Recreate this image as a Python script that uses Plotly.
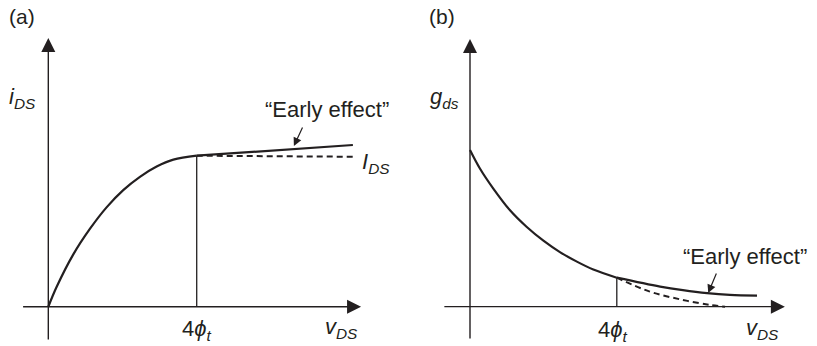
import plotly.graph_objects as go

# ---------------- data ----------------
# Panel (a): i_DS vs v_DS  (x in units of phi_t, y normalised to I_DS)
va_rise = [0, 0.226, 0.67, 1.12, 1.57, 2.02, 2.47, 2.92, 3.37, 4.0]
ia_rise = [0, 0.132, 0.345, 0.515, 0.658, 0.772, 0.86, 0.928, 0.974, 1.0]
va_sat = [4.0, 8.21]
ia_early = [1.0, 1.071]
ia_ideal = [1.0, 0.993]
va_knee = [4.0, 4.0]
ia_knee = [0.0, 1.0]

# Panel (b): g_ds vs v_DS
vb_main = [0, 0.27, 0.64, 1.09, 1.54, 2.0, 2.45, 2.9, 3.36, 4.0]
gb_main = [1.0, 0.882, 0.752, 0.615, 0.51, 0.421, 0.348, 0.289, 0.237, 0.185]
vb_early = [4.0, 5.18, 5.8, 6.46, 7.08, 7.82]
gb_early = [0.185, 0.128, 0.105, 0.086, 0.075, 0.07]
vb_ideal = [4.0, 4.9, 5.8, 6.54, 6.95]
gb_ideal = [0.185, 0.096, 0.043, 0.011, 0.0]
vb_knee = [4.0, 4.0]
gb_knee = [0.0, 0.185]

INK = "#231f20"
FONT = "Liberation Sans, Arial, sans-serif"

fig = go.Figure()

def line(x, y, xa, ya, width=2.0, dash="solid", shape="spline"):
    fig.add_trace(go.Scatter(x=x, y=y, xaxis=xa, yaxis=ya, mode="lines",
                             line=dict(color=INK, width=width, dash=dash, shape=shape,
                                       smoothing=1.0),
                             hoverinfo="skip", showlegend=False))

# panel a
line(va_rise, ia_rise, "x", "y", 2.2)
line(va_sat, ia_early, "x", "y", 2.2, shape="linear")
line(va_sat, ia_ideal, "x", "y", 2.0, dash="6px,4px", shape="linear")
line(va_knee, ia_knee, "x", "y", 1.3, shape="linear")
# panel b
line(vb_main, gb_main, "x2", "y2", 2.2)
line(vb_early, gb_early, "x2", "y2", 2.2)
line(vb_ideal, gb_ideal, "x2", "y2", 2.0, dash="6px,4px")
line(vb_knee, gb_knee, "x2", "y2", 1.3, shape="linear")

ann = []

def arrow(xr, yr, x, y, ax, ay, width=1.4, size=2.0, head=2):
    ann.append(dict(xref=xr, yref=yr, axref=xr, ayref=yr, x=x, y=y, ax=ax, ay=ay,
                    showarrow=True, arrowhead=head, arrowsize=size, arrowwidth=width,
                    arrowcolor=INK, standoff=0, startstandoff=0, text=""))

def text(xr, yr, x, y, t, size=22, xanchor="center"):
    ann.append(dict(xref=xr, yref=yr, x=x, y=y, text=t, showarrow=False,
                    xanchor=xanchor, yanchor="middle",
                    font=dict(family=FONT, size=size, color=INK)))

# axes panel a
arrow("x", "y", 0, 1.78, 0, -0.227)
arrow("x", "y", 8.43, 0, -0.72, 0)
# axes panel b
arrow("x2", "y2", 0, 1.708, 0, -0.212)
arrow("x2", "y2", 8.58, 0, -0.74, 0)
# small "Early effect" pointers
arrow("x", "y", 6.62, 1.064, 6.87, 1.197, width=1.2, size=1.4)
arrow("x2", "y2", 6.49, 0.087, 6.73, 0.221, width=1.2, size=1.4)

# text panel a
text("x", "y", -1.11, 1.919, "(a)", 21, "left")
text("x", "y", -1.11, 1.382, "<i>i</i><sub><i>DS</i></sub>", 22, "left")
text("x", "y", 7.51, 1.303, "“Early effect”", 22)
text("x", "y", 8.40, 0.952, "<i>I</i><sub><i>DS</i></sub>", 22, "left")
text("x", "y", 4.0, -0.154, "4<i>ϕ</i><sub><i>t</i></sub>", 22)
text("x", "y", 7.89, -0.14, "<i>v</i><sub><i>DS</i></sub>", 22)
# text panel b
text("x2", "y2", -1.17, 1.849, "(b)", 21, "left")
text("x2", "y2", -1.14, 1.332, "<i>g</i><sub><i>ds</i></sub>", 22, "left")
text("x2", "y2", 7.49, 0.317, "“Early effect”", 22)
text("x2", "y2", 3.9, -0.154, "4<i>ϕ</i><sub><i>t</i></sub>", 22)
text("x2", "y2", 7.96, -0.14, "<i>v</i><sub><i>DS</i></sub>", 22)

hidden = dict(visible=False, showgrid=False, zeroline=False, fixedrange=True)
fig.update_layout(
    width=817, height=346,
    margin=dict(l=0, r=0, t=0, b=0),
    paper_bgcolor="white", plot_bgcolor="white",
    xaxis=dict(domain=[0, 410 / 817], range=[-1.302, 9.749], **hidden),
    yaxis=dict(domain=[0, 1], range=[-0.26, 2.031], **hidden),
    xaxis2=dict(domain=[410 / 817, 1], range=[-1.635, 9.455], **hidden),
    yaxis2=dict(domain=[0, 1], range=[-0.251, 1.957], anchor="x2", **hidden),
    annotations=ann,
    showlegend=False,
)
fig.write_html("out.html")
